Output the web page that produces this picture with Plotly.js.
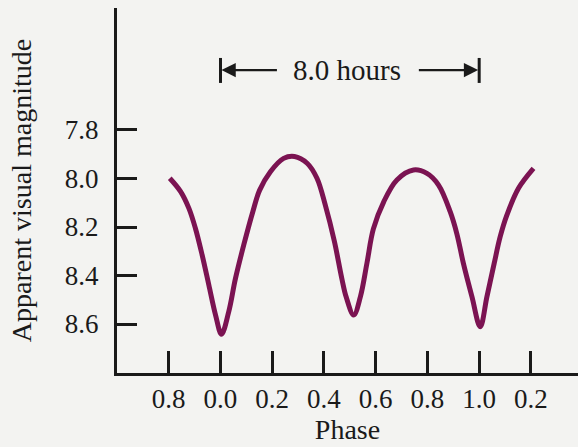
<!DOCTYPE html>
<html>
<head>
<meta charset="utf-8">
<script src="https://cdn.plot.ly/plotly-3.0.1.min.js"></script>
<style>html,body{margin:0;padding:0;background:#f3f3f1;}#chart{width:578px;height:447px;}</style>
</head>
<body>
<div id="chart"></div>
<script>
// Light curve (phase, apparent visual magnitude)
const phase = [-0.196, -0.154, -0.122, -0.097, -0.071, -0.045, -0.019, 0.004, 0.032, 0.058, 0.090, 0.125,
  0.151, 0.193, 0.244, 0.286, 0.335, 0.373, 0.405, 0.440, 0.469, 0.486, 0.515, 0.541, 0.566, 0.591,
  0.631, 0.682, 0.746, 0.798, 0.843, 0.888, 0.914, 0.939, 0.972, 1.004, 1.030, 1.058, 1.081, 1.107,
  1.152, 1.210];
const magnitude = [7.999, 8.054, 8.123, 8.205, 8.315, 8.439, 8.563, 8.642, 8.549, 8.412, 8.274, 8.137,
  8.049, 7.972, 7.917, 7.909, 7.937, 7.999, 8.109, 8.258, 8.412, 8.489, 8.563, 8.487, 8.350, 8.208,
  8.096, 8.006, 7.965, 7.979, 8.027, 8.137, 8.229, 8.350, 8.487, 8.611, 8.487, 8.350, 8.241, 8.151,
  8.040, 7.958];

const xTickVals = [-0.2, 0.0, 0.2, 0.4, 0.6, 0.8, 1.0, 1.2];
const xTickText = ["0.8", "0.0", "0.2", "0.4", "0.6", "0.8", "1.0", "0.2"];
const yTickVals = [7.8, 8.0, 8.2, 8.4, 8.6];
const yTickText = ["7.8", "8.0", "8.2", "8.4", "8.6"];

const periodLabel = "8.0 hours";
const periodStart = 0.0, periodEnd = 1.0;

const font = "'Liberation Serif', 'Times New Roman', serif";
const ink = "#1a1a1a";

const trace = {
  x: phase, y: magnitude, type: "scatter", mode: "lines",
  line: {color: "#7b1352", width: 5, shape: "spline", smoothing: 1},
  hoverinfo: "skip"
};

const arrowY = 7.553;
const layout = {
  width: 578, height: 447,
  margin: {l: 117, r: 0, t: 8, b: 74},
  paper_bgcolor: "#f3f3f1", plot_bgcolor: "#f3f3f1",
  showlegend: false,
  font: {family: font, color: ink, size: 27},
  xaxis: {
    range: [-0.4, 1.382], showgrid: false, zeroline: false,
    showline: true, linecolor: ink, linewidth: 3,
    tickmode: "array", tickvals: xTickVals, ticktext: xTickText,
    ticks: "inside", ticklen: 22, tickwidth: 3, tickcolor: ink,
    ticklabelstandoff: 0,
    tickfont: {family: font, size: 27, color: ink},
    title: {text: "Phase", font: {family: font, size: 28, color: ink}, standoff: 5}
  },
  yaxis: {
    range: [8.802, 7.297], showgrid: false, zeroline: false,
    showline: true, linecolor: ink, linewidth: 3,
    tickmode: "array", tickvals: yTickVals, ticktext: yTickText,
    ticks: "inside", ticklen: 20, tickwidth: 3, tickcolor: ink,
    ticklabelstandoff: 10,
    tickfont: {family: font, size: 27, color: ink},
    title: {text: "Apparent visual magnitude", font: {family: font, size: 28, color: ink}, standoff: 26}
  },
  shapes: [
    {type: "line", xref: "x", yref: "y", x0: periodStart, x1: periodStart, y0: 7.503, y1: 7.606, line: {color: ink, width: 3}},
    {type: "line", xref: "x", yref: "y", x0: periodEnd, x1: periodEnd, y0: 7.503, y1: 7.606, line: {color: ink, width: 3}}
  ],
  annotations: [
    {x: 0.49, y: arrowY, xref: "x", yref: "y", text: periodLabel, showarrow: false,
     font: {family: font, size: 29, color: ink}},
    {x: periodStart, y: arrowY, ax: 0.224, ay: arrowY, xref: "x", yref: "y", axref: "x", ayref: "y",
     text: "", showarrow: true, arrowhead: 2, arrowsize: 1.3, arrowwidth: 2.2, arrowcolor: ink, standoff: 1},
    {x: periodEnd, y: arrowY, ax: 0.761, ay: arrowY, xref: "x", yref: "y", axref: "x", ayref: "y",
     text: "", showarrow: true, arrowhead: 2, arrowsize: 1.3, arrowwidth: 2.2, arrowcolor: ink, standoff: 1}
  ]
};

Plotly.newPlot("chart", [trace], layout, {staticPlot: true, displayModeBar: false});
</script>
</body>
</html>
